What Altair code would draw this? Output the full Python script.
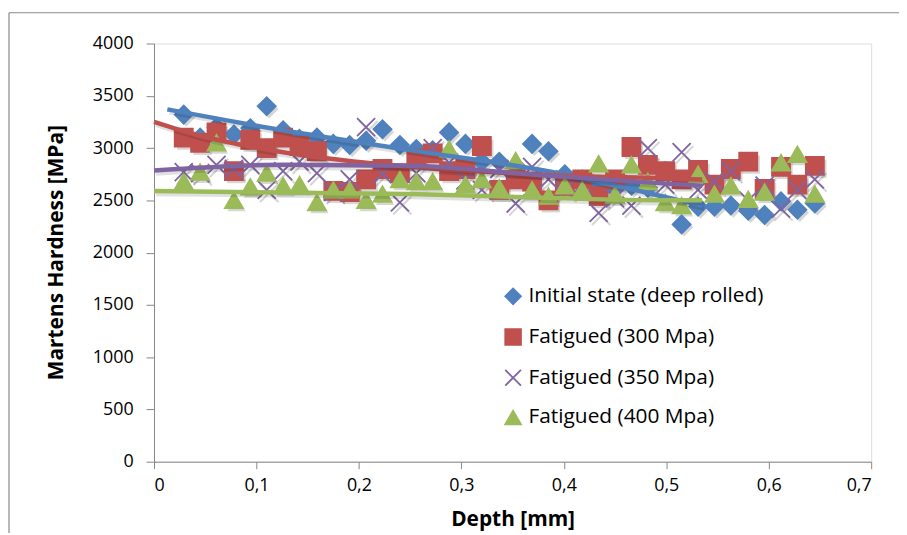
import altair as alt
import pandas as pd

# ---------------- data ----------------
series_names = ["Initial state (deep rolled)", "Fatigued (300 Mpa)",
                "Fatigued (350 Mpa)", "Fatigued (400 Mpa)"]
colors = ["#4F81BD", "#C0504D", "#8064A2", "#9BBB59"]

depth = [0.029, 0.045, 0.061, 0.078, 0.094, 0.110, 0.126, 0.142, 0.159, 0.175,
         0.191, 0.207, 0.223, 0.240, 0.256, 0.272, 0.288, 0.304, 0.320, 0.337,
         0.353, 0.369, 0.385, 0.401, 0.418, 0.434, 0.450, 0.466, 0.482, 0.499,
         0.515, 0.531, 0.547, 0.563, 0.580, 0.596, 0.612, 0.628, 0.645]

initial = [3320, 3100, 3200, 3130, 3190, 3400, 3170, 3090, 3100, 3040,
           3030, 3070, 3180, 3030, 2990, 2980, 3150, 3040, 2870, 2870,
           2830, 3040, 2970, 2750, 2700, 2650, 2620, 2640, 2620, 2780,
           2270, 2440, 2440, 2450, 2400, 2360, 2490, 2410, 2470]
fat300 = [3100, 3050, 3150, 2780, 3080, 3000, 3100, 3020, 2970, 2590,
          2580, 2700, 2800, 2760, 2900, 2950, 2780, 2800, 3020, 2600,
          2700, 2680, 2500, 2640, 2700, 2540, 2700, 3010, 2840, 2780,
          2700, 2790, 2650, 2800, 2870, 2610, 2820, 2650, 2830]
fat350 = [2770, 2760, 2840, 2800, 2840, 2600, 2780, 2870, 2760, 2580,
          2700, 3200, 2750, 2480, 2760, 3000, 2860, 2690, 2600, 2800,
          2470, 2820, 2700, 2600, 2650, 2380, 2520, 2450, 3000, 2650,
          2960, 2600, 2680, 2780, 2500, 2640, 2420, 2600, 2700]
fat400 = [2680, 2770, 3050, 2500, 2630, 2760, 2640, 2650, 2480, 2600,
          2600, 2500, 2560, 2700, 2680, 2680, 2990, 2650, 2700, 2620,
          2880, 2600, 2540, 2640, 2600, 2850, 2550, 2840, 2680, 2480,
          2450, 2750, 2560, 2640, 2510, 2580, 2860, 2940, 2560]

# trend lines
blue_trend_x = [0.013, 0.126, 0.25, 0.378, 0.5, 0.535]
blue_trend_y = [3370, 3170, 2980, 2790, 2530, 2450]
red_trend_x = [0.0, 0.044, 0.126, 0.25, 0.378, 0.5, 0.535]
red_trend_y = [3250, 3120, 2960, 2820, 2745, 2710, 2700]
purple_trend_x = [0.0, 0.126, 0.25, 0.378, 0.5, 0.535]
purple_trend_y = [2785, 2840, 2830, 2740, 2660, 2640]
green_trend_x = [0.0, 0.126, 0.25, 0.378, 0.5, 0.535]
green_trend_y = [2590, 2575, 2560, 2525, 2500, 2500]

x_ticks = [0, 0.1, 0.2, 0.3, 0.4, 0.5, 0.6, 0.7]
y_ticks = [0, 500, 1000, 1500, 2000, 2500, 3000, 3500, 4000]

# ---------------- tables ----------------
rows = []
for name, vals in zip(series_names, [initial, fat300, fat350, fat400]):
    for d, v in zip(depth, vals):
        rows.append({"series": name, "depth": d, "hv": v})
pts = pd.DataFrame(rows)

trend_sets = []
for name, xs, ys in zip(series_names,
                        [blue_trend_x, red_trend_x, purple_trend_x, green_trend_x],
                        [blue_trend_y, red_trend_y, purple_trend_y, green_trend_y]):
    trend_sets.append(pd.DataFrame({"series": name, "depth": xs, "hv": ys}))

FONT = "Open Sans"
XPATH = "M-1,-1L1,1M-1,1L1,-1"
shapes = ["diamond", "square", XPATH, "triangle-up"]

xscale = alt.Scale(domain=[0, 0.7], nice=False, zero=False)
yscale = alt.Scale(domain=[0, 4000], nice=False)

x_enc = alt.X("depth:Q", scale=xscale, axis=alt.Axis(
    values=x_ticks, grid=False, tickSize=7, tickColor="#868686",
    domainColor="#868686", labelFontSize=18, labelFont=FONT, labelColor="#000",
    labelPadding=8,
    labelExpr="datum.value == 0 ? '0' : replace(format(datum.value, '.1f'), '.', ',')",
    title="Depth [mm]", titleFont=FONT, titleFontSize=21, titleFontWeight="bold",
    titleColor="#000", titleX=361, titleY=58, titleBaseline="middle",
    titleAlign="center"))
y_enc = alt.Y("hv:Q", scale=yscale, axis=alt.Axis(
    values=y_ticks, grid=False, tickSize=8, tickColor="#868686",
    domainColor="#868686", labelFontSize=18, labelFont=FONT, labelColor="#000",
    labelPadding=13, format="d",
    title="Martens Hardness [MPa]", titleFont=FONT, titleFontSize=21,
    titleFontWeight="bold", titleColor="#000", titleX=-98, titleY=210,
    titleAngle=-90, titleAlign="center", titleBaseline="middle"))

dom = series_names

# outer chart frame (top and left edges)
frame_top = alt.Chart(pd.DataFrame({"a": [0]})).mark_rule(
    stroke="#8a8a8a", strokeWidth=1.2
).encode(x=alt.value(-146), x2=alt.value(760), y=alt.value(-31))
frame_left = alt.Chart(pd.DataFrame({"a": [0]})).mark_rule(
    stroke="#8a8a8a", strokeWidth=1.2
).encode(x=alt.value(-146), y=alt.value(-31), y2=alt.value(500))

# marker shadows
shadow_layers = []
for name, shp in zip(series_names, shapes):
    shadow_layers.append(
        alt.Chart(pts).transform_filter(alt.datum.series == name).mark_point(
            shape=shp, size=340, filled=(shp != XPATH), color="#000",
            opacity=0.16, strokeWidth=2 if shp == XPATH else 0,
            xOffset=2.5, yOffset=3
        ).encode(x="depth:Q", y="hv:Q")
    )

points = alt.Chart(pts).mark_point(filled=True, opacity=1, size=330,
                                   strokeWidth=1.8).encode(
    x=x_enc, y=y_enc,
    fill=alt.Fill("series:N", scale=alt.Scale(domain=dom, range=colors),
                  sort=dom,
                  legend=alt.Legend(title=None, orient="none", legendX=351,
                                    legendY=244, labelFont=FONT,
                                    labelFontSize=21, labelColor="#000",
                                    symbolSize=250, symbolStrokeWidth=1.8,
                                    rowPadding=16, labelOffset=5,
                                    labelLimit=400)),
    stroke=alt.Stroke("series:N", scale=alt.Scale(domain=dom, range=colors),
                      sort=dom),
    shape=alt.Shape("series:N", scale=alt.Scale(domain=dom, range=shapes),
                    sort=dom),
)

line_layers = []
for df, col in zip(trend_sets, colors):
    line_layers.append(alt.Chart(df).mark_line(
        interpolate="monotone", strokeWidth=4.5, color="#000", opacity=0.12,
        xOffset=2, yOffset=3).encode(x="depth:Q", y="hv:Q"))
    line_layers.append(alt.Chart(df).mark_line(
        interpolate="monotone", strokeWidth=4.5, color=col).encode(
        x="depth:Q", y="hv:Q"))

chart = alt.layer(frame_top, frame_left, *shadow_layers, points,
                  *line_layers).properties(
    width=722, height=421,
    autosize=alt.AutoSizeParams(type="none"),
    padding={"left": 147, "top": 34, "right": 28, "bottom": 70},
).configure_view(stroke=None).configure(background="white")

chart.save("out.html", embed_options={"renderer": "svg", "actions": False})
